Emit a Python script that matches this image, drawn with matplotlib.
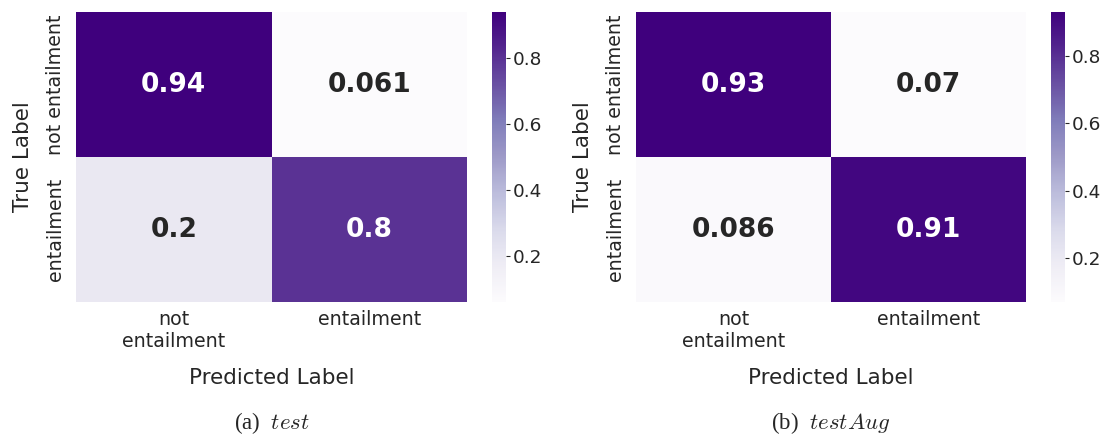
import matplotlib
matplotlib.use("Agg")
import matplotlib.pyplot as plt
import numpy as np
import seaborn as sns

pred_labels = ["not\nentailment", "entailment"]
true_labels = ["not entailment", "entailment"]
test_cm = [[0.94, 0.061], [0.2, 0.8]]
test_aug_cm = [[0.93, 0.07], [0.086, 0.91]]
captions = ["(a)  $test$", "(b)  $testAug$"]

sns.set_theme(style="white")
plt.rcParams["mathtext.fontset"] = "cm"

fig = plt.figure(figsize=(11.1, 4.4), dpi=100)

# heatmap / colorbar boxes in figure coords
W, H = 1110.0, 440.0
bottom, height = 1 - 302 / H, 290 / H
panels = [
    (test_cm, captions[0], 76, 391, 492),
    (test_aug_cm, captions[1], 636, 390, 1051),
]

for cm, cap, x0, w, cx in panels:
    ax = fig.add_axes([x0 / W, bottom, w / W, height])
    cax = fig.add_axes([cx / W, bottom, 14 / W, height])
    sns.heatmap(np.array(cm), annot=True, fmt=".2g", cmap="Purples",
                ax=ax, cbar_ax=cax,
                xticklabels=pred_labels, yticklabels=true_labels,
                annot_kws={"size": 19, "weight": "bold"})
    ax.tick_params(labelsize=13.7, length=0)
    ax.tick_params(axis="x", pad=6)
    ax.tick_params(axis="y", pad=8)
    plt.setp(ax.get_xticklabels(), rotation=0, ha="center")
    plt.setp(ax.get_yticklabels(), rotation=90, va="center")
    ax.set_xlabel("Predicted Label", fontsize=15.5, labelpad=12)
    ax.set_ylabel("True Label", fontsize=15.5, labelpad=9)
    cax.tick_params(labelsize=13.3, length=3, width=0.8, right=True,
                    color="#262626", pad=2)
    fig.text((x0 + w / 2) / W, 1 - 423 / H, cap, ha="center", va="center",
             family="Liberation Serif", fontsize=16.5)

fig.savefig("out.png", dpi=100, facecolor="white")
